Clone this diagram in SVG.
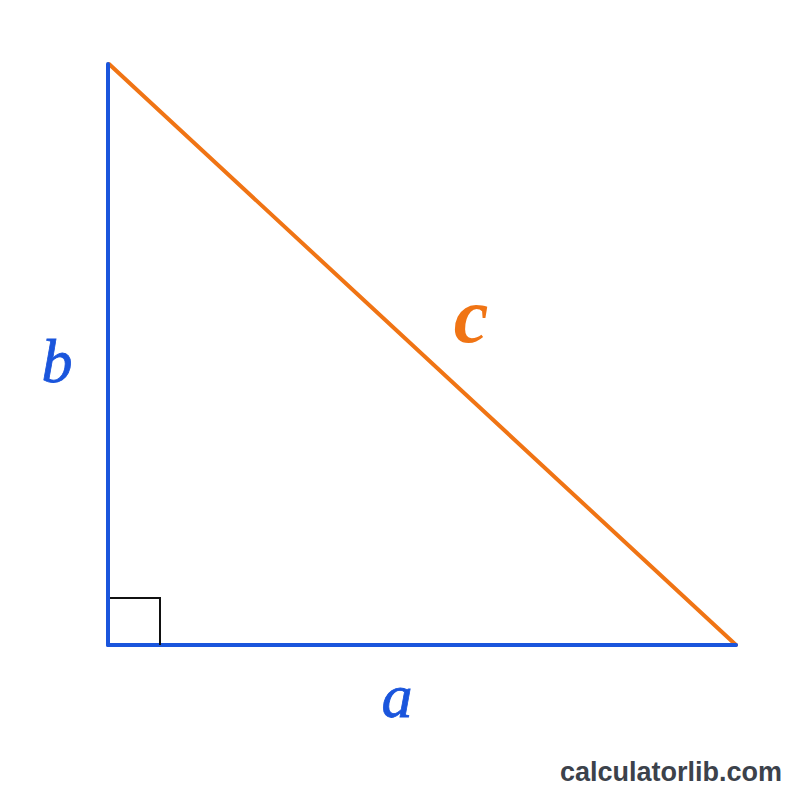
<svg xmlns="http://www.w3.org/2000/svg" width="800" height="800" viewBox="0 0 800 800">
<style>
.leg{stroke:#1a55dc;stroke-width:4;stroke-linecap:round;fill:none}
.hyp{stroke:#f07414;stroke-width:4;stroke-linecap:round;fill:none}
.lbl{font-family:"Liberation Serif",serif;font-style:italic;font-size:62px}
</style>
<rect width="800" height="800" fill="#ffffff"/>
<g id="connectors">
<line class="hyp" x1="109" y1="64" x2="736" y2="645"/>
<line class="leg" x1="108" y1="64" x2="108" y2="645"/>
<line class="leg" x1="108" y1="645" x2="736" y2="645"/>
<polyline points="110,598 160,598 160,645" fill="none" stroke="#111" stroke-width="2"/>
</g>
<g id="label-b"><text class="lbl" x="57" y="382" fill="#1a55dc" text-anchor="middle" stroke="#1a55dc" stroke-width="0.8">b</text></g>
<g id="label-c"><text class="lbl" x="471" y="342" fill="#f07414" text-anchor="middle" font-weight="bold" style="font-size:78px">c</text></g>
<g id="label-a"><text class="lbl" x="397" y="717" fill="#1a55dc" text-anchor="middle" stroke="#1a55dc" stroke-width="0.8">a</text></g>
<g id="brand"><text x="782" y="781" text-anchor="end" font-family="Liberation Sans,Arial,sans-serif" font-weight="bold" font-size="27" fill="#3c424b">calculatorlib.com</text></g>
</svg>
